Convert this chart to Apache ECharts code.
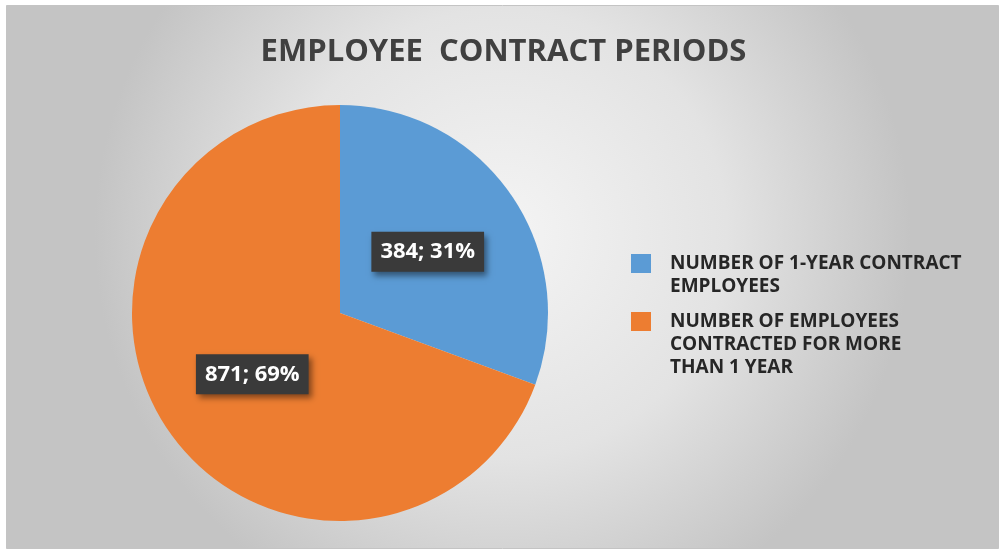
<!DOCTYPE html>
<html>
<head>
<meta charset="utf-8">
<script src="https://cdn.jsdelivr.net/npm/echarts@6/dist/echarts.min.js"></script>
<style>
  html, body { margin: 0; padding: 0; background: #ffffff; }
  #chart { width: 1007px; height: 552px; }
</style>
</head>
<body>
<div id="chart"></div>
<script>
// Contract period breakdown
const categories = [
  'NUMBER OF 1-YEAR CONTRACT EMPLOYEES',
  'NUMBER OF EMPLOYEES CONTRACTED FOR MORE THAN 1 YEAR'
];
const legendLines = [
  ['NUMBER OF 1-YEAR CONTRACT', 'EMPLOYEES'],
  ['NUMBER OF EMPLOYEES', 'CONTRACTED FOR MORE', 'THAN 1 YEAR']
];
const employeeCounts = [384, 871];
const sliceColors = ['#5B9BD5', '#ED7D31'];
const chartTitle = 'EMPLOYEE  CONTRACT PERIODS';

const chart = echarts.init(document.getElementById('chart'), null, { renderer: 'canvas' });

const LINE_H = 23;
const FONT = '"Open Sans", "Noto Sans", sans-serif';

// One legend block per entry; blank lines above the text keep the swatch
// level with the first text line (legend text is centred on the swatch).
const iconCenters = [263.5, 321.5];
const legends = categories.map(function (name, i) {
  const lines = legendLines[i].length;
  const padLines = lines - 1;
  const blockH = (padLines + lines) * LINE_H;
  const text = new Array(padLines + 1).join('\n') + legendLines[i].join('\n');
  return {
    show: true,
    data: [name],
    orient: 'vertical',
    left: 631,
    top: iconCenters[i] - blockH / 2,
    padding: 0,
    itemWidth: 20,
    itemHeight: 19,
    icon: 'rect',
    selectedMode: false,
    formatter: function () { return text; },
    textStyle: {
      fontFamily: FONT,
      fontWeight: 700,
      fontSize: 19,
      lineHeight: LINE_H,
      color: '#262626',
      padding: [0, 0, 0, 14]
    }
  };
});

chart.setOption({
  animation: false,
  graphic: [{
    type: 'rect',
    z: -10,
    silent: true,
    shape: { x: 6.5, y: 5.5, width: 992, height: 543 },
    style: {
      fill: new echarts.graphic.RadialGradient(0.5, 0.42, 0.75, [
        { offset: 0, color: '#f4f4f4' },
        { offset: 0.55, color: '#e3e3e3' },
        { offset: 1, color: '#c4c4c4' }
      ]),
      stroke: '#c4c4c4',
      lineWidth: 1
    }
  }],
  title: {
    text: chartTitle,
    left: 'center',
    top: 37,
    padding: 0,
    textStyle: {
      fontFamily: FONT,
      fontWeight: 700,
      fontSize: 31,
      color: '#404040'
    }
  },
  legend: legends,
  series: [{
    type: 'pie',
    center: [340, 313],
    radius: [0, 208],
    startAngle: 90,
    clockwise: true,
    percentPrecision: 0,
    silent: true,
    itemStyle: { borderWidth: 0 },
    label: {
      show: true,
      position: 'inside',
      formatter: '{c}; {d}%',
      fontFamily: FONT,
      fontWeight: 700,
      fontSize: 22,
      lineHeight: 24,
      color: '#ffffff',
      backgroundColor: '#3a3a3a',
      padding: [8, 9, 8, 9],
      shadowColor: 'rgba(0,0,0,0.45)',
      shadowBlur: 6,
      shadowOffsetX: 3,
      shadowOffsetY: 4
    },
    labelLine: { show: false },
    data: categories.map(function (name, i) {
      return { name: name, value: employeeCounts[i], itemStyle: { color: sliceColors[i] } };
    })
  }]
});
</script>
</body>
</html>
